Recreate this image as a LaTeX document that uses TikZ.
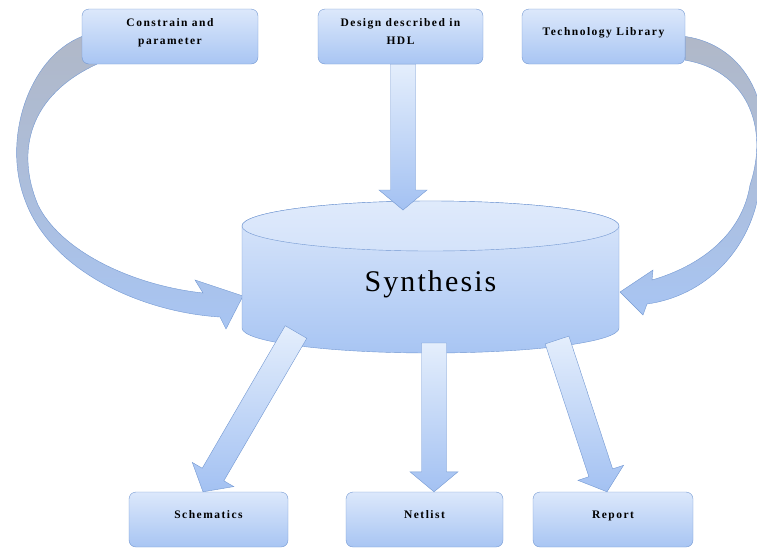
\documentclass[tikz,border=0pt]{standalone}
\usepackage{fontspec}
\setmainfont{Liberation Serif}
\usepackage{tikz}
\usetikzlibrary{calc, backgrounds}

\definecolor{boxtop}{HTML}{DCE8FB}
\definecolor{boxbot}{HTML}{A8C5F3}
\definecolor{boxline}{HTML}{7398D2}
\definecolor{arrtail}{HTML}{E4EEFC}
\definecolor{arrhead}{HTML}{A3C1F2}
\definecolor{bandgray}{HTML}{B0B8C8}

\tikzset{
    stagebox/.style={draw=boxline, rounded corners=7pt, top color=boxtop, bottom color=boxbot,
        minimum height=55pt, text depth=10pt, align=center,
        font=\bfseries\fontsize{11.5}{18}\selectfont\addfontfeature{LetterSpace=13}},
    blockarrow/.style={draw=boxline, top color=arrtail, bottom color=arrhead, line join=miter},
    bentarrow/.style={draw=boxline, top color=bandgray, bottom color=boxbot, middle color=bandgray!55!boxbot},
}

% straight block arrow from #1 to #2
\newcommand{\blockarrowfrom}[2]{%
    \coordinate (fa-base) at ($(#2)!20pt!(#1)$);
    \draw[blockarrow] ($(#1)!12.5pt!90:(#2)$) -- ($(fa-base)!12.5pt!90:(#2)$) -- ($(fa-base)!24pt!90:(#2)$)
        -- (#2) -- ($(fa-base)!24pt!-90:(#2)$) -- ($(fa-base)!12.5pt!-90:(#2)$) -- ($(#1)!12.5pt!-90:(#2)$) -- cycle;
}

\begin{document}
\begin{tikzpicture}[x=1pt, y=-1pt]
    \useasboundingbox (0,0) rectangle (757,547);

    % input boxes
    \node [stagebox, minimum width=176pt] (con) at (170,36.5) {Constrain and\\parameter};
    \node [stagebox, minimum width=165pt] (hdl) at (400.5,36.5) {Design described in\\HDL};
    \node [stagebox, minimum width=163pt] (tech) at (603.5,36.5) {Technology Library};

    % output boxes
    \node [stagebox, minimum width=159pt] (sch) at (208.5,519.5) {Schematics};
    \node [stagebox, minimum width=157pt] (net) at (424.5,519.5) {Netlist};
    \node [stagebox, minimum width=160pt] (rep) at (613,519.5) {Report};

    % cylinder
    \draw [draw=boxline, top color=boxtop, bottom color=boxbot] (242,226) -- (242,328)
        arc [start angle=180, end angle=360, x radius=188.5pt, y radius=25pt] -- (619,226)
        arc [start angle=0, end angle=180, x radius=188.5pt, y radius=25pt] -- cycle;
    \draw [draw=boxline, top color=boxtop!90!white, bottom color=boxtop!85!boxbot] (430.5,226)
        ellipse [x radius=188.5pt, y radius=25pt];
    \node [font=\fontsize{30}{36}\selectfont\addfontfeature{LetterSpace=7}] (syn) at (430.5,284) {Synthesis};

    \coordinate (hdl-out) at ([xshift=2.5pt]hdl.south);
    \coordinate (hdl-in) at (403,210);
    \coordinate (con-in) at (243,296);
    \coordinate (tech-in) at (620,292);
    \coordinate (syn-sch) at (296,332);
    \coordinate (syn-net) at (434,343);
    \coordinate (syn-rep) at (557,340);
    \coordinate (sch-in) at ([xshift=-5.5pt]sch.north);
    \coordinate (net-in) at ([xshift=9.5pt]net.north);
    \coordinate (rep-in) at ([xshift=-6pt]rep.north);

    % curved arrows
    \begin{pgfonlayer}{background}
        \draw [bentarrow] (con.west) .. controls (28,58) and (2,140) .. (25,200)
            .. controls (50,270) and (140,312) .. (220,317) -- (226,329) -- (con-in) -- (195,280) -- (203,293)
            .. controls (130,285) and (60,250) .. (38,205)
            .. controls (15,150) and (30,95) .. ([xshift=15pt]con.south west) -- cycle;
        \draw [bentarrow] (tech.east) .. controls (745,45) and (778,105) .. (760,185)
            .. controls (752,250) and (705,296) .. (647,304) -- (643,315) -- (tech-in) -- (653,270) -- (652,280)
            .. controls (700,266) and (742,235) .. (750,185)
            .. controls (770,125) and (745,70) .. ([yshift=4pt]tech.south east) -- cycle;
    \end{pgfonlayer}

    % straight arrows
    \blockarrowfrom{hdl-out}{hdl-in}
    \blockarrowfrom{syn-sch}{sch-in}
    \blockarrowfrom{syn-net}{net-in}
    \blockarrowfrom{syn-rep}{rep-in}
\end{tikzpicture}
\end{document}
